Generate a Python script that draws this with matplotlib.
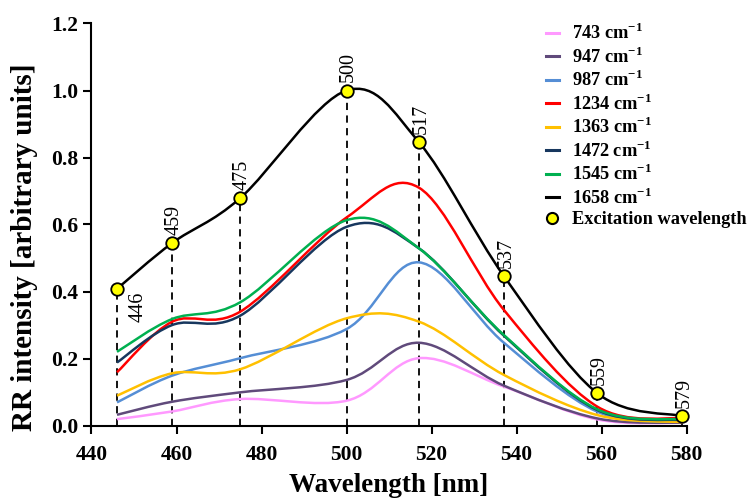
import numpy as np
import matplotlib
matplotlib.use("Agg")
import matplotlib.pyplot as plt
from matplotlib.path import Path
from matplotlib.patches import PathPatch
from matplotlib.lines import Line2D

plt.rcParams['font.family'] = ['Liberation Serif', 'DejaVu Serif']
plt.rcParams['mathtext.fontset'] = 'custom'
plt.rcParams['mathtext.rm'] = 'Liberation Serif:bold'
plt.rcParams['mathtext.bf'] = 'Liberation Serif:bold'

# excitation wavelengths (nm)
wavelengths = [446, 459, 475, 500, 517, 537, 559, 579]

# RR intensity of each band at each excitation wavelength
band_743 = [0.019, 0.042, 0.079, 0.074, 0.201, 0.116, 0.018, 0.008]
band_947 = [0.032, 0.071, 0.099, 0.136, 0.247, 0.119, 0.021, 0.008]
band_987 = [0.069, 0.149, 0.201, 0.288, 0.487, 0.247, 0.041, 0.011]
band_1234 = [0.159, 0.310, 0.340, 0.621, 0.710, 0.345, 0.056, 0.021]
band_1363 = [0.089, 0.156, 0.168, 0.320, 0.310, 0.151, 0.031, 0.010]
band_1472 = [0.188, 0.300, 0.328, 0.593, 0.529, 0.268, 0.046, 0.016]
band_1545 = [0.220, 0.318, 0.368, 0.613, 0.529, 0.270, 0.048, 0.018]
band_1658 = [0.408, 0.545, 0.679, 1.000, 0.846, 0.446, 0.096, 0.028]

series = [
    ('743', band_743, '#FF99FF'),
    ('947', band_947, '#604A7B'),
    ('987', band_987, '#558ED5'),
    ('1234', band_1234, '#FF0000'),
    ('1363', band_1363, '#FFC000'),
    ('1472', band_1472, '#17375E'),
    ('1545', band_1545, '#00B050'),
    ('1658', band_1658, '#000000'),
]


def smooth_path(x, y):
    # Excel-like smoothed line: cubic bezier segments through the points
    pts = np.column_stack([x, y]).astype(float)
    n = len(pts)
    verts = [pts[0]]
    codes = [Path.MOVETO]
    for i in range(n - 1):
        p_prev = pts[i - 1] if i > 0 else pts[i]
        p_next2 = pts[i + 2] if i + 2 < n else pts[i + 1]
        c1 = pts[i] + (pts[i + 1] - p_prev) / 6
        c2 = pts[i + 1] - (p_next2 - pts[i]) / 6
        verts += [c1, c2, pts[i + 1]]
        codes += [Path.CURVE4] * 3
    return Path(verts, codes)


fig = plt.figure(figsize=(7.53, 5.0), dpi=100)
ax = fig.add_axes([0.1215, 0.149, 0.7905, 0.804])

# dashed guides from the excitation markers down to zero
ax.vlines(wavelengths, 0, band_1658, colors='black', linestyles=(0, (4, 3)), lw=1.3, zorder=2)

handles = []
for name, vals, col in series:
    ax.add_patch(PathPatch(smooth_path(wavelengths, vals), facecolor='none',
                           edgecolor=col, lw=1.8, zorder=3))
    handles.append(Line2D([], [], color=col, lw=2.2, label=name + r' cm$^{\mathbf{-1}}$'))

ax.plot(wavelengths, band_1658, 'o', ms=9, mfc='#FFFF00', mec='black', mew=1.3,
        zorder=5, clip_on=False)
handles.append(Line2D([], [], ls='none', marker='o', ms=8, mfc='#FFFF00', mec='black',
                      mew=1.5, label='Excitation wavelength'))

for w, v in zip(wavelengths, band_1658):
    if w == 446:
        ax.annotate(str(w), (w, v), xytext=(15, -2), textcoords='offset points',
                    rotation=90, ha='center', va='top', fontsize=14.5)
    else:
        ax.annotate(str(w), (w, v), xytext=(1.5, 6), textcoords='offset points',
                    rotation=90, ha='center', va='bottom', fontsize=14.5)

ax.set_xlim(440, 580)
ax.set_ylim(0, 1.2)
ax.set_xticks(np.arange(440, 581, 20))
ax.set_yticks(np.arange(0, 1.21, 0.2))
ax.yaxis.set_major_formatter(matplotlib.ticker.FormatStrFormatter('%.1f'))
for s in ['top', 'right']:
    ax.spines[s].set_visible(False)
for s in ['left', 'bottom']:
    ax.spines[s].set_linewidth(1.5)
ax.tick_params(direction='out', length=6, width=1.5, labelsize=15.5)
ax.tick_params(axis='x', pad=8)
for lab in ax.get_xticklabels() + ax.get_yticklabels():
    lab.set_fontweight('bold')

ax.set_xlabel('Wavelength [nm]', fontsize=19.5, fontweight='bold', labelpad=6)
ax.set_ylabel('RR intensity [arbitrary units]', fontsize=21, fontweight='bold')
ax.yaxis.set_label_coords(-0.09, 0.444)

fig.legend(handles=handles, loc='upper left', bbox_to_anchor=(0.725, 0.954),
           frameon=False, prop={'weight': 'bold', 'size': 13.2}, handlelength=0.7,
           handletextpad=0.7, labelspacing=0.185, borderpad=0, borderaxespad=0)

fig.savefig('out.png', dpi=100)
